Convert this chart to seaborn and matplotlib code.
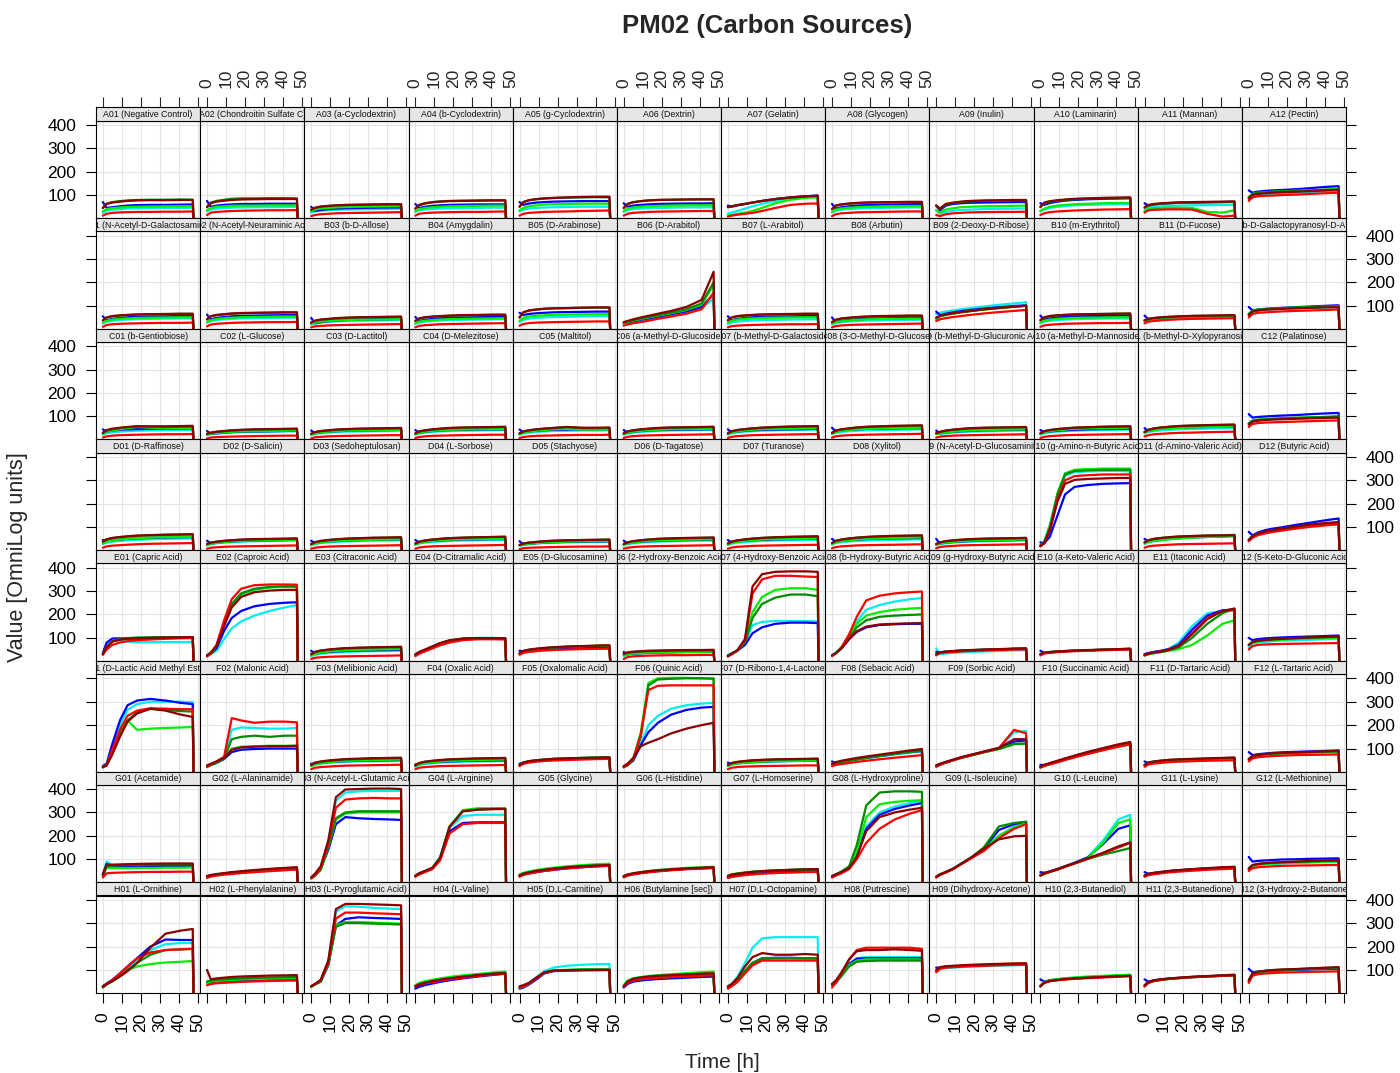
import matplotlib
matplotlib.use("Agg")
import matplotlib.pyplot as plt
import pandas as pd
import seaborn as sns

sns.set_theme(style="white")
plt.rcParams["font.family"] = ["Liberation Sans", "DejaVu Sans"]

# Read-out times (h); every trace ends with the drop to zero when the run stops
HOURS = [0, 2, 5, 9, 13, 18, 25, 33, 41, 47.3]
RUN_END = 47.7
RUN_END_VALUE = 0

# Trace order inside every well: cyan, blue, lime, darkgreen, red, darkred
SERIES = ["cyan", "blue", "lime", "darkgreen", "red", "darkred"]
PALETTE = {"cyan": "#00EEEE", "blue": "#0000FF", "lime": "#00EE00",
           "darkgreen": "#008B00", "red": "#FF0000", "darkred": "#8B0000"}

ROW_A = ["Negative Control", "Chondroitin Sulfate C", "a-Cyclodextrin", "b-Cyclodextrin",
         "g-Cyclodextrin", "Dextrin", "Gelatin", "Glycogen", "Inulin", "Laminarin",
         "Mannan", "Pectin"]
ROW_B = ["N-Acetyl-D-Galactosamine", "N-Acetyl-Neuraminic Acid", "b-D-Allose", "Amygdalin",
         "D-Arabinose", "D-Arabitol", "L-Arabitol", "Arbutin", "2-Deoxy-D-Ribose",
         "m-Erythritol", "D-Fucose", "3-0-b-D-Galactopyranosyl-D-Arabinose"]
ROW_C = ["b-Gentiobiose", "L-Glucose", "D-Lactitol", "D-Melezitose", "Maltitol",
         "a-Methyl-D-Glucoside", "b-Methyl-D-Galactoside", "3-O-Methyl-D-Glucose",
         "b-Methyl-D-Glucuronic Acid", "a-Methyl-D-Mannoside", "b-Methyl-D-Xylopyranoside",
         "Palatinose"]
ROW_D = ["D-Raffinose", "D-Salicin", "Sedoheptulosan", "L-Sorbose", "Stachyose",
         "D-Tagatose", "Turanose", "Xylitol", "N-Acetyl-D-Glucosaminitol",
         "g-Amino-n-Butyric Acid", "d-Amino-Valeric Acid", "Butyric Acid"]
ROW_E = ["Capric Acid", "Caproic Acid", "Citraconic Acid", "D-Citramalic Acid",
         "D-Glucosamine", "2-Hydroxy-Benzoic Acid", "4-Hydroxy-Benzoic Acid",
         "b-Hydroxy-Butyric Acid", "g-Hydroxy-Butyric Acid", "a-Keto-Valeric Acid",
         "Itaconic Acid", "5-Keto-D-Gluconic Acid"]
ROW_F = ["D-Lactic Acid Methyl Ester", "Malonic Acid", "Melibionic Acid", "Oxalic Acid",
         "Oxalomalic Acid", "Quinic Acid", "D-Ribono-1,4-Lactone", "Sebacic Acid",
         "Sorbic Acid", "Succinamic Acid", "D-Tartaric Acid", "L-Tartaric Acid"]
ROW_G = ["Acetamide", "L-Alaninamide", "N-Acetyl-L-Glutamic Acid", "L-Arginine", "Glycine",
         "L-Histidine", "L-Homoserine", "L-Hydroxyproline", "L-Isoleucine", "L-Leucine",
         "L-Lysine", "L-Methionine"]
ROW_H = ["L-Ornithine", "L-Phenylalanine", "L-Pyroglutamic Acid", "L-Valine",
         "D,L-Carnitine", "Butylamine [sec]", "D,L-Octopamine", "Putrescine",
         "Dihydroxy-Acetone", "2,3-Butanediol", "2,3-Butanedione", "3-Hydroxy-2-Butanone"]

# ---- Row A ----
A01 = [[25,33,37,40,42,43,44,45,45,46], [70,45,48,52,55,57,58,58,59,60],
       [30,40,44,47,49,50,51,52,52,53], [45,63,70,74,77,79,80,80,81,80],
       [12,20,24,26,27,28,28,29,29,30], [45,62,68,72,75,77,78,78,79,79]]
A02 = [[30,38,42,45,46,47,48,48,49,50], [75,50,55,58,60,62,62,63,63,63],
       [35,45,50,52,54,55,55,56,56,56], [50,68,75,80,84,86,86,87,87,86],
       [15,25,28,30,32,33,34,35,35,36], [48,65,72,76,79,81,82,83,83,83]]
A03 = [[25,30,33,35,37,38,39,40,41,42], [50,32,36,40,42,44,45,46,47,47],
       [30,38,42,45,47,49,50,51,52,53], [35,45,50,53,55,57,58,59,60,60],
       [10,15,18,20,22,23,24,25,26,27], [38,46,51,54,56,58,59,60,61,61]]
A04 = [[28,35,38,40,42,43,44,45,46,46], [62,45,50,54,56,58,59,60,60,60],
       [30,40,45,48,50,52,53,54,55,55], [42,58,65,70,73,75,76,77,78,78],
       [12,20,23,25,26,27,28,28,29,30], [42,57,64,69,72,74,75,76,77,77]]
A05 = [[30,38,42,45,47,48,49,50,50,50], [70,58,64,68,70,72,73,74,74,74],
       [35,45,52,56,59,61,62,63,63,63], [50,70,78,82,85,87,89,90,91,90],
       [12,20,24,26,28,29,30,32,33,34], [50,70,78,83,86,88,90,92,93,93]]
A06 = [[28,36,40,42,44,45,46,47,47,48], [65,50,55,58,60,62,63,64,64,65],
       [32,42,47,50,52,54,55,56,56,57], [45,62,70,74,77,79,80,81,81,81],
       [12,20,24,26,28,29,30,31,32,32], [45,62,69,74,77,79,80,81,82,82]]
A07 = [[20,25,32,42,52,62,75,85,92,95], [55,50,56,62,68,75,83,90,95,98],
       [12,15,20,25,32,45,65,80,88,90], [48,52,57,62,68,74,82,89,94,96],
       [8,12,16,20,24,32,45,58,63,64], [48,52,57,62,68,75,83,90,95,97]]
A08 = [[25,33,38,40,42,44,45,46,47,48], [62,42,48,52,55,57,59,60,61,62],
       [28,38,43,46,48,50,51,52,53,53], [40,55,60,63,66,68,69,70,70,70],
       [10,18,22,24,26,27,28,29,30,30], [40,55,60,64,66,68,69,70,71,71]]
A09 = [[35,20,28,33,36,38,40,41,42,43], [55,35,55,62,65,67,68,69,70,70],
       [35,25,38,44,48,50,52,53,54,55], [55,42,60,66,70,73,75,76,77,77],
       [15,10,18,22,24,26,27,28,28,29], [55,42,62,68,72,75,77,78,79,79]]
A10 = [[30,38,45,50,53,56,58,60,61,62], [65,58,66,72,76,79,82,84,85,86],
       [32,42,50,55,58,61,63,65,66,66], [48,65,72,76,79,82,85,87,88,88],
       [15,22,27,30,32,34,36,38,39,40], [50,68,74,78,81,84,86,88,89,90]]
A11 = [[35,45,50,52,54,55,56,57,57,58], [65,55,60,63,65,67,68,69,70,71],
       [30,40,44,45,46,46,45,28,25,35], [45,55,60,63,65,67,68,69,70,70],
       [25,35,37,38,39,39,38,20,8,12], [48,58,62,65,67,69,70,71,72,73]]
A12 = [[80,95,100,103,106,108,110,112,115,118], [120,110,115,118,120,122,125,130,135,138],
       [90,105,110,112,114,116,118,120,123,125], [90,105,110,112,114,116,118,120,123,125],
       [75,90,95,97,98,100,102,105,108,110], [85,100,105,108,110,112,114,117,120,122]]

# ---- Row B ----
B01 = [[25,32,36,39,41,43,44,45,46,46], [55,38,44,48,51,53,54,55,56,56],
       [28,36,41,44,46,48,49,50,51,51], [38,50,55,58,60,62,63,64,65,65],
       [10,18,21,23,24,25,26,27,27,28], [38,50,56,59,61,63,64,65,66,66]]
B02 = [[28,35,39,42,44,46,47,48,49,49], [62,42,48,52,55,57,58,59,60,60],
       [30,38,43,47,49,51,52,53,54,54], [42,55,60,63,66,68,69,70,71,71],
       [12,20,23,25,27,28,29,30,30,31], [42,55,61,64,67,69,70,71,72,72]]
B03 = [[20,25,28,31,33,35,36,37,38,39], [48,25,30,34,37,39,41,42,43,44],
       [22,28,32,35,37,39,40,41,42,43], [28,36,40,43,46,48,50,51,52,52],
       [8,12,14,16,17,18,19,20,21,22], [28,36,41,44,47,49,51,52,53,54]]
B04 = [[22,28,32,35,37,39,40,41,42,43], [52,35,40,44,47,49,50,51,52,53],
       [25,32,36,39,41,43,44,45,46,47], [35,45,50,53,55,57,59,60,61,61],
       [8,14,17,19,21,22,23,24,25,26], [35,46,51,54,56,58,60,61,62,62]]
B05 = [[30,40,45,48,50,52,53,54,55,55], [70,60,65,68,70,72,73,74,75,75],
       [35,48,54,57,59,61,62,63,64,64], [50,72,80,84,87,89,90,91,92,92],
       [15,22,26,28,29,30,31,32,33,33], [50,72,80,84,87,89,90,92,93,93]]
B06 = [[20,25,30,36,42,50,60,72,90,130], [25,28,33,40,46,54,64,76,95,150],
       [25,30,36,43,50,58,68,82,105,190], [28,32,38,45,52,60,70,85,110,200],
       [15,20,25,30,36,44,54,66,85,155], [30,35,42,50,57,66,78,95,125,245]]
B07 = [[22,28,32,35,37,39,40,41,42,42], [55,38,44,48,51,53,54,55,56,56],
       [28,36,41,44,46,48,49,50,51,51], [38,50,55,58,60,62,63,64,65,65],
       [8,13,15,17,18,19,20,21,21,22], [38,50,56,59,61,63,64,65,66,66]]
B08 = [[20,26,30,33,35,37,38,39,40,40], [50,30,35,39,42,44,46,47,48,49],
       [24,30,34,37,40,42,43,44,45,45], [30,40,45,48,51,53,55,56,57,57],
       [8,13,16,18,19,20,21,22,23,24], [30,40,46,49,52,54,56,57,58,58]]
B09 = [[65,70,75,80,85,90,97,104,110,115], [75,60,66,72,77,82,88,94,99,102],
       [45,55,61,67,72,77,84,90,96,100], [45,55,61,67,72,77,84,90,96,100],
       [35,42,47,52,56,61,67,73,78,82], [50,57,63,68,73,78,85,91,96,100]]
B10 = [[25,32,36,39,41,43,44,45,46,46], [58,40,46,50,53,55,56,57,58,58],
       [28,36,41,44,46,48,49,50,51,51], [38,50,56,59,61,63,64,65,66,66],
       [10,16,19,21,23,24,25,26,26,27], [38,50,56,59,61,63,64,65,66,67]]
B11 = [[35,40,43,46,48,50,52,53,54,55], [58,42,45,48,50,52,54,55,56,57],
       [35,40,44,47,49,51,53,54,55,56], [38,44,47,50,52,54,56,57,58,59],
       [25,32,35,38,40,42,44,45,46,47], [38,44,48,51,53,55,57,58,59,60]]
B12 = [[60,75,80,83,85,87,89,91,93,94], [95,80,84,87,89,91,94,97,100,102],
       [65,78,83,86,88,90,92,94,96,97], [65,78,83,86,88,90,92,94,96,97],
       [50,65,70,72,74,76,78,80,82,84], [60,75,80,83,85,87,89,91,93,94]]

# ---- Row C ----
C01 = [[22,28,32,35,37,39,40,41,42,42], [45,35,40,43,45,46,47,48,48,49],
       [25,35,40,45,50,55,52,50,50,50], [30,40,45,50,54,58,56,55,56,57],
       [10,15,18,20,21,22,23,24,24,25], [30,42,48,52,55,58,58,58,59,60]]
C02 = [[20,24,27,29,31,33,34,35,36,37], [38,25,28,31,33,35,36,37,38,39],
       [22,26,29,32,34,36,37,38,39,40], [25,30,34,37,40,42,44,45,46,47],
       [6,10,12,13,14,15,16,17,18,18], [26,31,35,38,41,43,45,46,47,48]]
C03 = [[20,25,28,31,33,35,36,37,38,39], [40,28,32,35,37,39,40,41,42,43],
       [22,28,32,35,37,39,40,41,42,43], [26,33,37,40,43,45,47,48,49,50],
       [6,11,13,15,16,17,18,19,20,20], [26,33,38,41,44,46,48,49,50,51]]
C04 = [[22,27,31,34,36,38,39,40,41,42], [42,30,35,38,40,42,43,44,45,45],
       [24,30,35,38,41,43,44,45,46,46], [28,36,40,44,47,50,52,53,54,55],
       [8,12,15,17,18,19,20,21,22,22], [28,36,41,45,48,51,53,54,55,56]]
C05 = [[22,27,31,34,36,38,39,40,40,41], [44,32,36,39,41,43,44,45,45,46],
       [24,30,35,39,42,45,47,44,44,45], [28,36,41,45,48,51,55,50,50,51],
       [8,12,15,17,18,19,20,21,21,22], [28,36,41,45,48,51,55,52,52,53]]
C06 = [[22,27,31,34,36,38,40,41,42,43], [42,30,35,38,40,42,43,44,45,46],
       [24,30,35,38,41,43,45,46,47,48], [28,36,41,44,47,50,52,53,54,55],
       [8,13,16,18,19,20,21,22,23,24], [28,36,41,45,48,51,53,54,55,56]]
C07 = [[22,28,32,35,37,39,41,42,43,44], [45,32,36,39,41,43,44,45,46,47],
       [25,32,36,40,43,45,47,48,49,50], [28,37,42,46,49,52,54,56,57,58],
       [8,13,16,18,20,21,22,23,24,25], [28,37,42,46,49,52,55,57,58,59]]
C08 = [[24,30,34,37,39,41,42,43,44,45], [52,35,40,43,45,47,48,49,50,50],
       [26,33,38,42,45,47,49,50,51,52], [30,40,45,49,52,55,57,59,60,61],
       [10,15,18,20,21,22,23,24,25,26], [30,40,45,49,53,56,58,60,61,62]]
C09 = [[30,25,28,31,33,35,37,38,39,40], [40,28,32,35,37,39,41,42,43,44],
       [25,28,32,35,38,40,42,43,44,45], [28,34,39,43,46,49,51,52,53,54],
       [10,14,16,18,19,20,21,22,23,24], [28,34,40,44,47,50,52,53,54,55]]
C10 = [[22,28,32,35,37,39,41,42,43,44], [42,32,36,39,41,43,45,46,47,48],
       [25,32,37,41,44,47,49,50,51,52], [28,37,42,46,49,52,54,56,57,58],
       [8,13,16,18,20,21,22,23,24,25], [28,37,42,46,49,52,54,56,57,58]]
C11 = [[28,34,38,41,43,45,47,48,49,50], [50,38,43,47,50,52,54,55,56,57],
       [30,37,42,46,49,51,53,55,56,57], [34,43,49,53,56,59,61,63,64,65],
       [15,20,24,26,28,30,31,33,34,35], [34,43,49,53,56,59,61,63,64,65]]
C12 = [[70,80,84,86,88,90,92,95,97,98], [110,95,98,100,102,104,106,110,113,115],
       [70,82,86,88,90,92,94,96,98,100], [70,82,86,88,90,92,94,96,98,100],
       [55,68,72,74,75,76,78,80,82,83], [65,78,82,85,87,88,90,92,94,95]]

# ---- Row D ----
D01 = [[28,34,38,41,44,46,48,50,51,52], [45,40,44,47,50,52,54,56,57,58],
       [30,38,43,47,50,53,55,57,58,59], [38,48,53,57,60,63,65,67,68,69],
       [12,18,21,23,25,27,29,30,31,32], [38,48,54,58,61,64,66,68,69,70]]
D02 = [[22,27,31,34,36,38,40,41,42,43], [42,30,34,37,39,41,43,44,45,46],
       [24,29,33,36,39,41,43,44,45,46], [28,34,38,41,44,46,48,49,50,51],
       [8,12,14,16,17,18,19,20,21,22], [28,34,38,42,44,47,49,50,51,52]]
D03 = [[22,28,32,35,37,39,41,42,43,44], [42,32,36,39,41,43,45,46,47,48],
       [24,30,35,38,41,43,45,46,47,48], [28,36,41,45,48,50,52,54,55,56],
       [8,12,15,17,18,19,20,21,22,23], [28,36,41,45,48,51,53,55,56,57]]
D04 = [[24,30,34,37,39,41,43,44,45,46], [45,34,38,41,43,45,47,48,49,50],
       [26,32,37,41,44,46,48,49,50,51], [30,38,43,47,50,53,55,57,58,59],
       [8,13,16,18,19,20,21,22,23,24], [30,38,43,47,50,53,55,57,58,59]]
D05 = [[20,24,27,30,32,33,35,36,37,38], [40,26,29,32,34,36,37,38,39,40],
       [21,26,29,32,34,36,38,39,40,41], [24,30,34,37,40,42,44,45,46,47],
       [6,10,12,13,14,15,16,17,17,18], [24,30,34,37,40,42,44,45,46,47]]
D06 = [[22,27,31,34,36,38,40,41,42,43], [42,30,35,38,40,42,44,45,46,47],
       [24,30,34,38,41,43,45,46,47,48], [28,35,40,44,47,50,52,53,54,55],
       [8,12,15,17,18,19,20,21,22,23], [28,35,40,44,47,50,52,54,55,56]]
D07 = [[24,30,34,37,39,41,43,44,45,46], [45,34,39,42,44,46,48,49,50,51],
       [26,32,37,41,44,47,49,50,51,52], [30,38,43,47,51,54,56,58,59,60],
       [8,13,16,18,20,21,22,23,24,25], [30,38,44,48,51,54,57,59,60,61]]
D08 = [[25,32,36,39,41,43,45,46,47,48], [50,36,41,44,47,49,51,52,53,54],
       [28,35,40,44,47,50,52,54,55,56], [32,41,47,51,55,58,60,62,63,64],
       [10,15,18,20,22,23,24,25,26,27], [32,42,47,52,55,58,61,63,64,65]]
D09 = [[22,27,31,34,36,38,40,41,42,43], [50,30,34,37,39,41,43,44,45,46],
       [24,30,34,37,40,42,44,45,46,47], [28,35,40,43,46,48,50,52,53,54],
       [10,15,18,20,22,23,24,25,26,27], [28,35,40,44,46,49,51,52,53,54]]
D10 = [[25,40,110,240,320,335,338,340,340,338], [35,30,60,150,240,272,280,285,287,288],
       [20,35,105,245,330,345,348,350,350,350], [20,35,100,240,325,340,343,345,345,345],
       [18,30,90,220,300,318,322,325,325,325], [20,32,85,210,285,302,306,308,310,310]]
D11 = [[28,35,40,44,48,52,56,60,64,68], [50,38,43,47,50,53,56,58,60,62],
       [30,37,42,46,49,52,55,58,60,62], [35,44,50,54,57,60,62,64,65,66],
       [12,18,21,23,25,27,28,29,30,31], [35,44,50,54,57,60,62,64,65,66]]
D12 = [[45,60,70,78,84,90,97,104,110,114], [80,65,78,88,94,100,110,120,130,137],
       [45,62,72,80,86,92,100,108,114,118], [45,62,72,80,86,92,100,108,114,118],
       [40,55,66,74,80,86,94,102,108,112], [45,62,73,82,88,95,103,112,118,122]]

# ---- Row E ----
E01 = [[30,70,92,88,84,82,82,82,82,82], [35,80,97,98,98,98,99,100,100,100],
       [30,60,85,95,98,100,101,102,102,102], [30,60,85,95,99,101,102,103,103,103],
       [28,50,70,80,86,90,93,96,98,99], [30,60,84,92,96,98,100,101,102,103]]
E02 = [[25,30,45,95,140,170,195,215,230,240], [25,32,55,130,185,215,235,245,250,252],
       [22,35,65,160,240,285,305,315,318,320], [22,35,65,160,245,290,310,318,320,318],
       [20,34,70,175,265,310,325,328,328,327], [25,38,65,150,230,275,295,302,305,305]]
E03 = [[22,28,32,35,38,40,42,43,44,45], [45,32,37,40,42,44,46,47,48,49],
       [25,32,37,41,44,47,49,50,51,52], [30,40,45,49,52,55,57,58,59,60],
       [10,15,17,19,20,21,22,23,24,25], [30,40,46,50,53,56,58,60,61,62]]
E04 = [[25,35,45,60,75,88,97,100,100,98], [28,38,48,62,76,88,96,98,98,97],
       [25,35,46,60,75,88,96,98,98,97], [25,35,46,60,75,88,96,98,98,97],
       [22,32,42,55,68,80,90,94,94,93], [30,40,50,64,78,90,97,99,99,98]]
E05 = [[30,40,45,48,51,54,56,58,60,61], [45,42,46,49,52,55,57,59,61,62],
       [32,42,48,52,56,59,62,64,66,67], [32,42,48,52,56,59,62,64,66,67],
       [28,36,40,43,46,48,50,52,53,54], [35,45,50,54,57,60,63,65,67,68]]
E06 = [[22,28,31,33,35,36,37,38,38,39], [40,30,33,35,37,38,39,40,40,41],
       [25,30,33,35,37,38,39,40,40,41], [30,36,39,41,43,44,45,46,46,47],
       [10,18,21,23,24,25,26,26,27,27], [32,38,41,43,45,46,47,48,48,49]]
E07 = [[25,35,45,75,155,168,172,172,172,170], [25,33,45,70,120,145,160,165,165,163],
       [22,32,45,85,210,275,305,312,312,305], [22,32,45,80,185,245,272,285,285,278],
       [20,30,45,90,290,350,365,365,362,360], [22,32,48,95,320,372,382,384,384,382]]
E08 = [[25,35,60,110,170,220,240,255,265,270], [25,35,55,95,125,145,155,158,160,160],
       [25,35,60,110,160,195,210,220,225,228], [25,35,58,100,145,175,190,195,198,200],
       [22,33,60,115,190,260,280,290,295,298], [25,35,55,95,128,148,157,160,162,163]]
E09 = [[55,30,33,36,38,40,42,44,46,47], [40,38,41,43,45,47,49,51,53,54],
       [30,38,41,43,45,47,49,51,53,54], [30,38,41,43,45,47,49,51,53,54],
       [25,35,38,40,42,44,46,48,50,51], [30,38,41,44,46,48,50,52,54,55]]
E10 = [[30,36,39,41,43,45,47,49,51,52], [45,35,38,41,43,45,47,49,51,52],
       [30,36,39,41,43,45,47,49,51,53], [30,36,39,41,43,45,47,49,51,53],
       [25,33,36,39,41,43,45,47,49,50], [30,37,40,42,44,46,48,50,52,54]]
E11 = [[30,35,40,45,55,80,150,205,215,215], [30,35,40,45,52,70,135,195,218,220],
       [25,30,35,40,45,52,70,110,160,175], [25,30,35,40,47,60,100,160,205,225],
       [25,32,38,43,50,65,120,185,215,220], [28,33,38,43,50,65,115,180,215,225]]
E12 = [[60,75,80,83,86,88,90,92,94,95], [100,90,95,98,100,102,104,106,108,110],
       [70,80,85,88,90,92,95,97,99,100], [70,82,88,91,94,96,99,101,103,105],
       [50,65,70,72,73,74,75,76,77,78], [70,82,88,91,94,96,99,102,104,106]]

# ---- Row F ----
F01 = [[25,35,110,200,265,290,300,300,300,298], [25,35,120,220,285,305,312,305,295,290],
       [20,30,90,170,220,180,185,188,190,192], [20,30,80,160,220,255,270,265,260,258],
       [22,30,95,180,240,262,272,270,268,268], [20,28,75,150,215,250,270,262,245,235]]
F02 = [[25,32,42,60,180,190,188,185,185,188], [25,30,38,55,85,95,98,100,100,100],
       [22,30,40,58,100,108,110,112,112,112], [22,30,40,58,140,150,155,150,155,155],
       [22,32,45,65,230,220,210,215,215,212], [28,35,45,60,95,105,108,110,110,112]]
F03 = [[25,32,36,39,41,43,45,46,47,48], [35,35,39,42,44,46,48,49,50,51],
       [25,32,37,41,44,47,49,51,52,53], [30,38,43,47,50,53,55,57,58,59],
       [12,18,21,23,25,27,28,29,30,31], [30,40,45,49,52,55,57,59,60,61]]
F04 = [[22,30,34,37,40,42,44,45,46,47], [32,34,38,41,43,45,47,48,49,50],
       [25,32,37,41,44,47,49,51,52,53], [28,38,43,47,50,53,55,57,58,59],
       [12,18,21,23,25,26,27,28,29,30], [28,38,44,48,51,54,56,58,59,60]]
F05 = [[28,38,43,47,50,52,54,56,57,58], [35,40,45,48,51,53,55,57,58,59],
       [30,40,46,50,53,56,58,60,62,63], [30,40,46,50,53,56,58,60,62,63],
       [25,35,40,44,47,49,51,53,55,56], [30,40,46,50,53,56,58,60,61,62]]
F06 = [[22,30,50,120,200,240,270,285,292,295], [22,30,48,115,170,210,245,265,275,278],
       [20,30,55,170,380,400,402,402,400,400], [20,28,50,150,370,395,398,400,400,398],
       [20,30,55,160,350,368,370,370,370,370], [25,35,60,110,125,140,165,185,200,210]]
F07 = [[25,32,36,39,41,43,45,46,47,48], [40,33,37,40,42,44,46,47,48,49],
       [25,32,36,39,42,44,46,47,48,49], [30,38,43,46,49,51,53,54,55,56],
       [12,18,21,23,24,25,26,27,28,28], [30,38,43,47,50,52,54,55,56,57]]
F08 = [[30,35,40,45,52,58,66,75,82,88], [45,38,43,48,54,60,68,77,85,90],
       [30,36,42,48,54,61,69,78,86,92], [30,36,42,48,54,61,69,78,86,92],
       [25,30,34,38,43,48,54,61,67,72], [35,42,48,54,60,66,74,83,92,98]]
F09 = [[25,32,40,50,60,70,85,100,170,175], [28,34,42,52,62,72,86,102,130,135],
       [25,32,40,50,60,70,84,98,118,120], [25,32,40,50,60,70,84,98,120,122],
       [22,30,40,50,60,70,85,102,180,165], [28,35,43,53,63,73,87,103,140,140]]
F10 = [[22,28,35,45,55,67,82,98,113,122], [30,30,37,46,56,68,83,99,114,124],
       [20,27,34,43,53,64,78,93,108,118], [20,28,35,44,54,66,81,97,112,122],
       [18,25,32,41,51,62,77,93,108,118], [22,30,38,48,58,70,86,102,118,128]]
F11 = [[28,36,40,43,46,48,50,52,54,55], [45,38,42,45,48,50,52,54,56,57],
       [28,36,40,43,46,48,50,52,54,55], [30,40,45,48,51,53,55,57,59,60],
       [22,32,36,39,42,44,46,48,49,50], [30,40,45,49,52,54,56,58,60,62]]
F12 = [[50,65,70,73,76,78,80,82,84,85], [85,72,76,79,82,84,86,88,90,92],
       [55,66,71,74,77,79,81,83,85,86], [55,68,73,76,79,81,83,85,87,88],
       [45,58,63,66,68,70,72,73,74,75], [55,68,73,77,80,82,84,86,88,90]]

# ---- Row G ----
G01 = [[35,90,75,73,73,74,74,75,75,76], [35,80,70,70,70,71,71,72,72,72],
       [30,65,62,62,62,63,63,64,64,65], [30,70,72,74,75,76,77,78,78,78],
       [22,40,42,43,44,45,46,46,47,47], [35,75,77,78,79,80,81,82,82,82]]
G02 = [[25,30,34,38,42,46,51,56,60,63], [28,30,34,38,42,46,51,56,60,63],
       [25,30,34,38,42,46,51,56,60,63], [25,31,35,39,43,47,52,57,61,64],
       [20,26,30,34,37,41,45,49,53,56], [28,33,37,41,45,49,54,59,63,66]]
G03 = [[20,35,65,170,350,385,390,392,392,392], [22,35,60,140,250,280,275,272,270,268],
       [18,30,55,150,270,295,300,300,300,300], [18,30,55,150,275,300,305,305,305,305],
       [20,33,62,165,320,355,360,362,360,360], [22,38,70,180,365,398,400,402,402,400]]
G04 = [[30,40,50,65,110,235,285,290,290,290], [28,38,48,62,100,220,255,258,258,258],
       [28,38,48,62,105,240,310,318,318,318], [28,38,48,62,105,240,305,312,315,315],
       [25,35,45,58,95,210,250,255,255,255], [30,40,50,64,105,238,305,312,314,315]]
G05 = [[30,38,44,50,55,60,66,71,75,77], [30,35,40,45,50,55,61,66,70,72],
       [35,42,48,54,59,64,70,75,79,81], [30,38,44,50,55,60,66,71,74,76],
       [25,33,39,45,50,55,61,66,70,72], [30,38,44,50,55,60,65,70,73,75]]
G06 = [[25,32,37,42,46,50,55,59,62,64], [28,32,37,42,46,50,55,59,62,64],
       [28,35,40,45,50,54,59,63,66,68], [25,32,37,42,46,50,55,59,62,64],
       [22,30,35,40,44,48,53,57,60,62], [28,35,40,45,49,53,57,61,64,66]]
G07 = [[20,25,30,34,38,41,44,47,49,50], [25,28,32,36,40,43,46,49,51,52],
       [30,36,40,44,47,50,53,55,57,58], [28,34,38,42,46,49,52,54,56,57],
       [20,24,28,32,35,38,41,43,45,46], [28,34,38,42,46,49,52,55,57,58]]
G08 = [[25,35,45,65,120,240,300,325,340,350], [28,35,45,62,115,230,290,315,330,340],
       [25,35,45,65,130,280,335,345,350,352], [25,35,48,70,160,330,385,390,390,388],
       [22,30,40,58,100,170,230,270,295,310], [28,35,45,62,110,220,280,300,312,320]]
G09 = [[25,35,45,60,80,105,140,200,240,260], [25,35,45,60,80,105,145,225,250,260],
       [25,35,45,60,80,105,140,200,235,255], [25,35,45,60,80,105,150,240,255,260],
       [22,33,43,58,78,102,135,190,230,250], [25,35,45,60,80,105,145,185,198,200]]
G10 = [[35,40,48,58,70,85,110,180,270,290], [45,42,48,58,70,85,108,165,230,245],
       [30,38,46,56,68,82,105,170,255,270], [30,38,46,56,68,82,102,120,135,148],
       [30,38,46,56,68,82,102,125,150,170], [32,40,48,58,70,84,104,128,155,172]]
G11 = [[30,36,40,44,48,52,56,60,63,66], [45,38,42,46,50,53,57,61,64,67],
       [30,36,40,44,48,52,56,60,63,66], [30,36,40,44,48,52,56,60,63,66],
       [25,32,36,40,44,47,51,55,58,60], [30,38,42,46,50,54,58,62,66,68]]
G12 = [[55,70,75,78,80,82,84,86,88,89], [110,90,93,95,97,99,100,102,103,104],
       [60,72,77,80,82,84,86,88,90,91], [60,75,80,83,85,87,89,91,93,94],
       [50,62,66,68,70,72,73,74,75,76], [60,75,80,84,86,88,90,93,95,96]]

# ---- Row H ----
H01 = [[30,40,55,80,110,145,185,210,215,215], [30,42,58,85,115,150,200,230,228,228],
       [25,38,52,75,100,115,125,132,135,138], [25,38,52,75,100,130,165,185,188,190],
       [28,40,56,85,115,150,175,185,188,190], [30,40,52,72,95,130,195,255,268,275]]
H02 = [[45,50,52,54,56,58,60,62,63,64], [50,45,48,50,52,54,56,58,59,60],
       [45,50,53,55,57,59,61,63,64,65], [50,55,58,60,62,64,66,68,69,70],
       [35,40,43,45,47,49,51,53,54,55], [100,60,64,67,70,72,74,76,77,78]]
H03 = [[30,40,55,135,350,372,370,365,362,360], [30,40,50,120,290,318,325,322,320,318],
       [28,38,50,125,290,305,305,302,300,298], [28,38,50,125,285,300,300,298,296,294],
       [30,40,55,130,320,345,345,342,340,338], [30,40,58,140,360,382,382,380,378,376]]
H04 = [[25,35,42,50,57,63,70,77,83,87], [20,28,35,42,49,56,64,72,79,84],
       [35,45,52,58,64,70,77,83,89,93], [30,38,45,52,58,64,71,78,84,88],
       [30,36,42,48,54,60,67,74,80,84], [30,38,45,52,58,64,71,78,84,86]]
H05 = [[25,30,45,70,95,110,118,122,125,125], [20,25,38,60,85,95,98,100,100,100],
       [25,30,42,65,88,98,100,102,102,102], [25,30,42,65,88,98,100,102,102,102],
       [25,30,42,65,88,96,98,99,99,100], [30,35,45,68,90,97,98,99,100,100]]
H06 = [[30,45,55,60,64,67,70,73,76,78], [25,40,50,55,58,61,64,67,70,72],
       [35,55,65,70,74,78,82,86,90,93], [30,45,55,60,64,67,70,74,77,80],
       [28,45,55,60,63,66,69,72,75,78], [30,50,62,68,72,75,78,81,84,86]]
H07 = [[30,40,70,130,195,235,240,240,240,240], [25,35,55,95,130,150,152,152,150,150],
       [25,35,55,95,130,148,150,150,150,150], [25,35,55,95,130,148,150,150,150,150],
       [20,30,48,85,120,140,140,140,140,140], [30,40,65,115,155,172,165,165,168,165]]
H08 = [[40,50,80,125,150,155,155,155,155,155], [40,50,80,125,148,150,150,150,150,150],
       [35,45,75,120,140,145,145,145,145,145], [35,45,75,115,135,138,140,140,140,140],
       [25,45,85,145,185,195,195,195,195,190], [40,55,90,145,180,185,185,188,185,182]]
H09 = [[95,105,108,110,112,114,116,118,120,121], [110,110,113,115,117,119,121,123,124,125],
       [95,108,112,114,116,118,120,122,124,125], [95,108,112,114,116,118,120,122,124,125],
       [90,105,110,112,114,116,118,120,122,123], [100,112,116,118,120,122,124,126,128,129]]
H10 = [[35,48,55,59,62,65,68,71,74,76], [60,50,56,60,63,66,69,72,74,76],
       [30,48,56,61,65,68,72,75,78,80], [30,45,53,57,61,64,67,70,73,75],
       [30,45,52,56,59,62,65,68,71,73], [30,45,53,57,61,64,67,70,73,75]]
H11 = [[35,48,55,60,63,66,70,73,76,78], [60,50,56,60,63,66,70,73,76,78],
       [30,45,53,58,62,65,69,72,75,77], [30,45,53,58,62,65,69,72,75,77],
       [30,45,53,58,62,65,69,72,75,77], [35,48,56,60,64,67,71,74,77,80]]
H12 = [[60,80,88,92,95,97,99,101,103,104], [105,90,93,95,97,99,101,103,105,106],
       [50,85,92,96,99,101,103,106,108,110], [50,85,92,96,99,101,103,106,108,110],
       [45,75,82,85,87,89,90,92,93,94], [55,85,93,97,100,102,104,107,110,112]]

ROWS = "ABCDEFGH"
ROW_NAMES = [ROW_A, ROW_B, ROW_C, ROW_D, ROW_E, ROW_F, ROW_G, ROW_H]
WELL_CURVES = [
    [A01, A02, A03, A04, A05, A06, A07, A08, A09, A10, A11, A12],
    [B01, B02, B03, B04, B05, B06, B07, B08, B09, B10, B11, B12],
    [C01, C02, C03, C04, C05, C06, C07, C08, C09, C10, C11, C12],
    [D01, D02, D03, D04, D05, D06, D07, D08, D09, D10, D11, D12],
    [E01, E02, E03, E04, E05, E06, E07, E08, E09, E10, E11, E12],
    [F01, F02, F03, F04, F05, F06, F07, F08, F09, F10, F11, F12],
    [G01, G02, G03, G04, G05, G06, G07, G08, G09, G10, G11, G12],
    [H01, H02, H03, H04, H05, H06, H07, H08, H09, H10, H11, H12],
]

X_TICKS = [0, 10, 20, 30, 40, 50]
Y_TICKS = [100, 200, 300, 400]
X_LIM = (-3.6, 51.2)
Y_LIM = (2, 418)

# ---- page geometry (pixels) ----
W, H = 1400, 1073
X0, Y0 = 96.0, 107.3
CW, RH = 104.17, 110.7
STRIP = 13.3
TICK_LEN = 7.2
TICK_FS = 12.5

fig = plt.figure(figsize=(W / 100, H / 100), dpi=100)


def well_frame(curves):
    recs = []
    for name, vals in zip(SERIES, curves):
        for t, v in zip(HOURS + [RUN_END], list(vals) + [RUN_END_VALUE]):
            recs.append((name, t, v))
    return pd.DataFrame(recs, columns=["Curve", "Time", "Value"])


for r, row in enumerate(ROWS):
    for c in range(12):
        well = f"{row}{c + 1:02d}"
        left = X0 + c * CW
        top = Y0 + r * RH
        ax = fig.add_axes([left / W, 1 - (top + RH) / H, CW / W, (RH - STRIP) / H])
        sax = fig.add_axes([left / W, 1 - (top + STRIP) / H, CW / W, STRIP / H])

        sns.lineplot(data=well_frame(WELL_CURVES[r][c]), x="Time", y="Value",
                     hue="Curve", hue_order=SERIES, palette=PALETTE,
                     estimator=None, sort=False, legend=False, ax=ax,
                     linewidth=1.6)

        ax.set_xlim(*X_LIM)
        ax.set_ylim(*Y_LIM)
        ax.set_xticks(X_TICKS)
        ax.set_yticks(Y_TICKS)
        ax.set_xlabel("")
        ax.set_ylabel("")
        ax.grid(True, color="#E4E4E4", linewidth=0.8)
        ax.set_axisbelow(True)
        for s in ax.spines.values():
            s.set_color("black")
            s.set_linewidth(0.8)
        ax.tick_params(axis="both", which="both", bottom=False, top=False, left=False,
                       right=False, labelbottom=False, labeltop=False,
                       labelleft=False, labelright=False, direction="out",
                       length=TICK_LEN, width=0.8, color="black",
                       labelsize=TICK_FS, labelcolor="black", pad=7)
        if c == 0:
            ax.tick_params(axis="y", left=True, labelleft=(r % 2 == 0))
        if c == 11:
            ax.tick_params(axis="y", right=True, labelright=(r % 2 == 1))
        if r == 7:
            ax.tick_params(axis="x", bottom=True, labelbottom=(c % 2 == 0),
                           labelrotation=90)

        # strip with the well label
        sax.set_facecolor("#E6E6E6")
        sax.set_xlim(*X_LIM)
        sax.set_yticks([])
        sax.set_xticks(X_TICKS)
        sax.tick_params(axis="x", bottom=False, top=(r == 0), labelbottom=False,
                        labeltop=(r == 0 and c % 2 == 1), labelrotation=90,
                        direction="out", length=TICK_LEN, width=0.8,
                        labelsize=TICK_FS, pad=7)
        for s in sax.spines.values():
            s.set_color("black")
            s.set_linewidth(0.8)
        sax.text(0.5, 0.45, f"{well} ({ROW_NAMES[r][c]})", transform=sax.transAxes,
                 ha="center", va="center", fontsize=6.3, color="#111111", clip_on=True)

fig.text(767 / W, 1 - 26 / H, "PM02 (Carbon Sources)", ha="center", va="center",
         fontsize=18.5, fontweight="bold")
fig.text(722 / W, 1 - 1062 / H, "Time [h]", ha="center", va="center", fontsize=15)
fig.text(18 / W, 1 - 557 / H, "Value [OmniLog units]", ha="center", va="center",
         rotation=90, fontsize=15.5)

fig.savefig("out.png", dpi=100)
